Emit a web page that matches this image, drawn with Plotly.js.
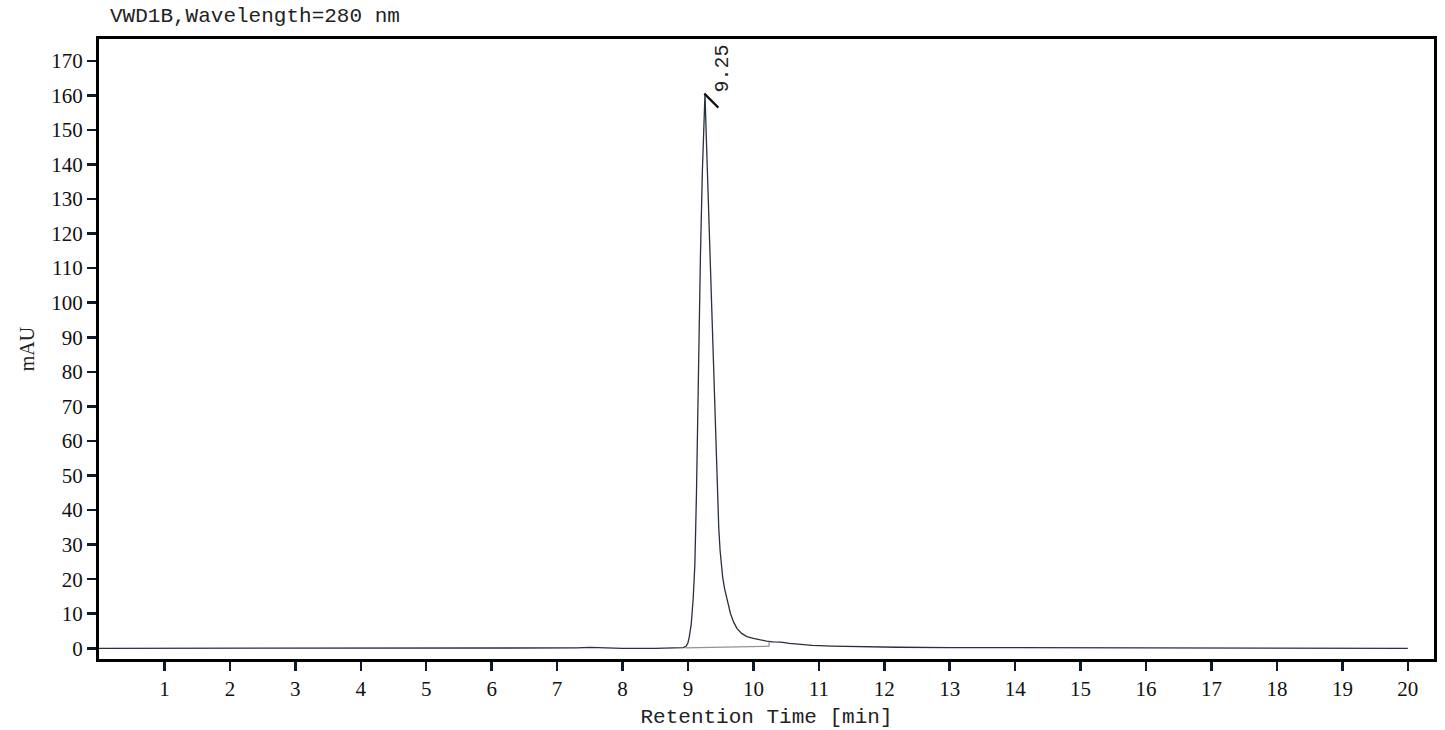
<!DOCTYPE html>
<html>
<head>
<meta charset="utf-8">
<script src="https://cdn.plot.ly/plotly-3.0.1.min.js"></script>
<style>html,body{margin:0;padding:0;background:#fff;}#chart{width:1445px;height:730px;}</style>
</head>
<body>
<div id="chart"></div>
<script>
// Chromatogram signal (min, mAU)
var timeMin = [0, 1, 2, 3, 4, 5, 6, 7, 7.3, 7.5, 7.7, 8, 8.5, 8.85, 8.93, 8.97, 9.0, 9.02, 9.05, 9.08, 9.105, 9.13, 9.16, 9.19, 9.22, 9.245, 9.26, 9.28, 9.32, 9.36, 9.39, 9.42, 9.45, 9.47, 9.49, 9.51, 9.53, 9.56, 9.6, 9.65, 9.7, 9.75, 9.82, 9.9, 10.0, 10.1, 10.2, 10.3, 10.42, 10.55, 10.7, 10.9, 11.2, 11.6, 12.2, 13, 14, 15, 16, 17, 18, 19, 20];
var signalMAU = [0.0, 0.0, 0.0, 0.0, 0.0, 0.0, 0.05, 0.05, 0.1, 0.25, 0.1, 0.0, -0.05, 0.0, 0.2, 0.6, 1.6, 3.3, 7.0, 14.5, 24, 45, 82, 113, 138, 156, 160.5, 148, 123, 100, 82, 62, 44, 35, 28.5, 23.8, 20.6, 17.2, 13.8, 10.0, 7.5, 5.7, 4.3, 3.4, 2.9, 2.4, 2.05, 1.85, 1.8, 1.4, 1.1, 0.85, 0.65, 0.45, 0.3, 0.2, 0.15, 0.12, 0.1, 0.05, 0.03, 0.0, 0.0];

// Integration baseline and drop line
var baseTimes = [8.96, 10.24];
var baseValues = [0.1, 0.6];
var dropTimes = [10.24, 10.24];
var dropValues = [0.6, 2.0];

// Peak labels
var peakTimes = [9.25];
var peakHeights = [160.5];
var peakLabels = ['9.25'];

// Axis ticks
var xTickVals = [1,2,3,4,5,6,7,8,9,10,11,12,13,14,15,16,17,18,19,20];
var xTickText = ['1','2','3','4','5','6','7','8','9','10','11','12','13','14','15','16','17','18','19','20'];
var yTickVals = [0,10,20,30,40,50,60,70,80,90,100,110,120,130,140,150,160,170];
var yTickText = ['0','10','20','30','40','50','60','70','80','90','100','110','120','130','140','150','160','170'];

var traces = [
  {x: timeMin, y: signalMAU, type: 'scatter', mode: 'lines',
   line: {color: '#27303d', width: 1.3}, hoverinfo: 'x+y'},
  {x: baseTimes, y: baseValues, type: 'scatter', mode: 'lines',
   line: {color: '#8c939c', width: 1.2}, hoverinfo: 'skip'},
  {x: dropTimes, y: dropValues, type: 'scatter', mode: 'lines',
   line: {color: '#6f7782', width: 1}, hoverinfo: 'skip'}
];

var annotations = [];
var shapes = [];
for (var i = 0; i < peakTimes.length; i++) {
  annotations.push({
    x: peakTimes[i], y: peakHeights[i], xref: 'x', yref: 'y',
    text: peakLabels[i], showarrow: false, textangle: -90,
    xanchor: 'left', yanchor: 'bottom', xshift: 5, yshift: -1,
    font: {family: 'Liberation Mono, monospace', size: 20, color: '#222'}
  });
  shapes.push({
    type: 'line', xref: 'x', yref: 'y',
    xsizemode: 'pixel', ysizemode: 'pixel',
    xanchor: peakTimes[i], yanchor: peakHeights[i],
    x0: 0, y0: 0, x1: 14, y1: -14,
    line: {color: '#111', width: 2.2}
  });
}

var layout = {
  width: 1445, height: 730,
  margin: {l: 99, r: 11, t: 39, b: 71, pad: 0},
  paper_bgcolor: '#ffffff', plot_bgcolor: '#ffffff',
  showlegend: false,
  title: {
    text: 'VWD1B,Wavelength=280 nm',
    xref: 'container', yref: 'container',
    x: 110/1445, xanchor: 'left', y: 1 - 15/730, yanchor: 'middle',
    font: {family: 'Liberation Mono, monospace', size: 21, color: '#222'}
  },
  xaxis: {
    range: [0, 20.4], showgrid: false, zeroline: false,
    showline: true, linecolor: '#000', linewidth: 3, mirror: true,
    ticks: 'outside', ticklen: 9, tickwidth: 2.5, tickcolor: '#0d1a2b',
    tickmode: 'array', tickvals: xTickVals, ticktext: xTickText,
    tickfont: {family: 'Liberation Serif, serif', size: 21, color: '#111'},
    title: {text: 'Retention Time [min]', standoff: 9,
            font: {family: 'Liberation Mono, monospace', size: 21, color: '#222'}}
  },
  yaxis: {
    range: [-3.1, 176.3], showgrid: false, zeroline: false,
    showline: true, linecolor: '#000', linewidth: 3, mirror: true,
    ticks: 'outside', ticklen: 9, tickwidth: 2.5, tickcolor: '#0d1a2b',
    tickmode: 'array', tickvals: yTickVals, ticktext: yTickText,
    tickfont: {family: 'Liberation Serif, serif', size: 21, color: '#111'},
    title: {text: 'mAU', standoff: 12,
            font: {family: 'Liberation Serif, serif', size: 20, color: '#222'}}
  },
  annotations: annotations,
  shapes: shapes
};

Plotly.newPlot('chart', traces, layout, {displayModeBar: false, staticPlot: true});
</script>
</body>
</html>
